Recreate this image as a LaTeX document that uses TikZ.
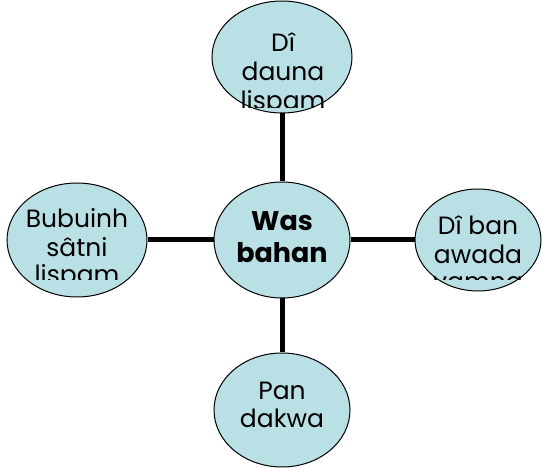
\documentclass[tikz,border=0pt]{standalone}
\usepackage{fontspec}
\setmainfont{Poppins}
\usetikzlibrary{shapes.geometric}
\definecolor{bub}{RGB}{185,224,229}
\tikzset{
  bubble/.style={ellipse, draw=black, line width=1pt, fill=bub, inner sep=0pt},
  link/.style={line width=5pt},
  lbl/.style={align=center, inner sep=0pt, anchor=base, font=\fontsize{25}{28}\selectfont},
  lbltop/.style={lbl, font=\fontsize{25}{29}\selectfont},
  clbl/.style={align=center, inner sep=0pt, anchor=base, font=\bfseries\fontsize{27}{32}\selectfont},
}
\begin{document}
\begin{tikzpicture}[x=1pt,y=-1pt]
\useasboundingbox (0,0) rectangle (542,468);
\node[bubble, minimum width=136pt, minimum height=116pt] (c) at (282,240) {};
\node[bubble, minimum width=140pt, minimum height=112pt] (t) at (282,57) {};
\node[bubble, minimum width=140pt, minimum height=114pt] (l) at (77,240) {};
\node[bubble, minimum width=126pt, minimum height=102pt] (r) at (478,240) {};
\node[bubble, minimum width=136pt, minimum height=114pt] (b) at (282,410) {};
\draw[link] (c) -- (t);
\draw[link] (c) -- (l);
\draw[link] (c) -- (r);
\draw[link] (c) -- (b);
\begin{scope}
\clip (200,0) rectangle (370,108);
\node[lbltop] (tt) at (283,110) {Dî\\dauna\\lispam};
\end{scope}
\begin{scope}
\clip (0,180) rectangle (160,280);
\node[lbl] (lt) at (77,284) {Bubuinh\\sâtni\\lispam};
\end{scope}
\begin{scope}
\clip (400,180) rectangle (542,280);
\node[lbl] (rt) at (478,291) {Dî ban\\awada\\vamna};
\end{scope}
\node[clbl] (ct) at (282,263) {Was\\bahan};
\node[lbl] (bt) at (282,428) {Pan\\dakwa};
\end{tikzpicture}
\end{document}
